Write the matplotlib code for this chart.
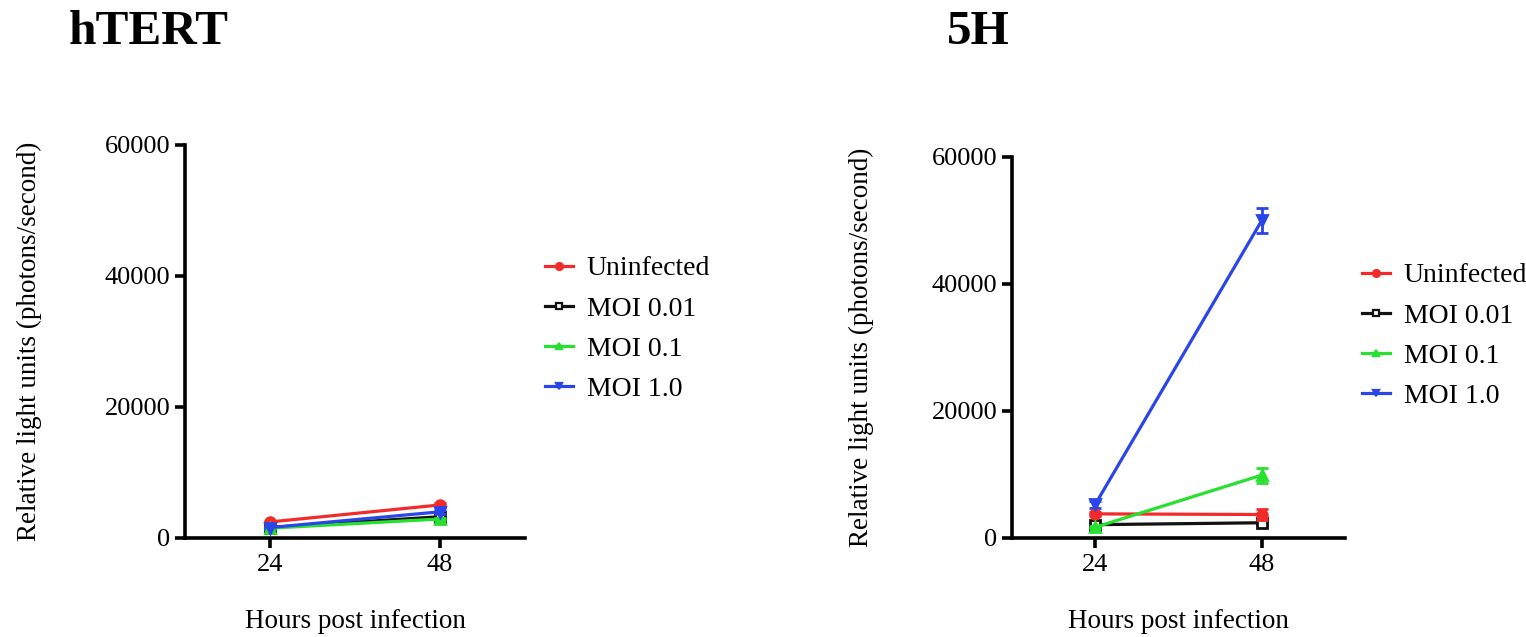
import matplotlib
matplotlib.use("Agg")
import matplotlib.pyplot as plt
from matplotlib.lines import Line2D

plt.rcParams['font.family'] = ['Liberation Serif', 'DejaVu Serif']

hours = [24, 48]
series = ["Uninfected", "MOI 0.01", "MOI 0.1", "MOI 1.0"]

# hTERT cells: mean luminescence and SEM
htert_mean = {
    "Uninfected": [2450, 5050],
    "MOI 0.01": [1600, 3250],
    "MOI 0.1": [1500, 2900],
    "MOI 1.0": [1600, 4000],
}
htert_err = {
    "Uninfected": [200, 300],
    "MOI 0.01": [150, 250],
    "MOI 0.1": [150, 200],
    "MOI 1.0": [150, 300],
}

# 5H cells: mean luminescence and SEM
h5_mean = {
    "Uninfected": [3800, 3700],
    "MOI 0.01": [2100, 2400],
    "MOI 0.1": [1700, 9900],
    "MOI 1.0": [5300, 50000],
}
h5_err = {
    "Uninfected": [300, 900],
    "MOI 0.01": [200, 300],
    "MOI 0.1": [200, 1200],
    "MOI 1.0": [600, 2000],
}

colors = {"Uninfected": "#f22a2a", "MOI 0.01": "#111111",
          "MOI 0.1": "#27e02f", "MOI 1.0": "#2a45e8"}
markers = {"Uninfected": "o", "MOI 0.01": "s", "MOI 0.1": "^", "MOI 1.0": "v"}
facecol = {"Uninfected": None, "MOI 0.01": "white", "MOI 0.1": None, "MOI 1.0": None}

W, H = 1526, 637
fig = plt.figure(figsize=(W / 100, H / 100), dpi=100)


def panel(rect, title, means, errs, title_x, legend_xy, ylab_x):
    ax = fig.add_axes(rect)
    handles = []
    for s in series:
        c = colors[s]
        fc = facecol[s] if facecol[s] else c
        ax.errorbar(hours, means[s], yerr=errs[s], color=c, lw=2.3,
                    marker=markers[s], markersize=7, markerfacecolor=fc,
                    markeredgecolor=c, markeredgewidth=2,
                    capsize=4, capthick=2, elinewidth=2,
                    zorder=3 if s != "MOI 0.01" else 2.5)
        handles.append(Line2D([], [], color=c, lw=2.3, marker=markers[s],
                              markersize=5, markerfacecolor=fc,
                              markeredgecolor=c, markeredgewidth=1.6))
    ax.set_xlim(12, 60)
    ax.set_ylim(0, 60000)
    ax.set_xticks(hours)
    ax.set_yticks([0, 20000, 40000, 60000])
    for sp in ["top", "right"]:
        ax.spines[sp].set_visible(False)
    for sp in ["left", "bottom"]:
        ax.spines[sp].set_linewidth(2.6)
    ax.tick_params(axis="both", direction="out", length=7.5, width=2.6,
                   labelsize=19, pad=4)
    ax.tick_params(axis="y", pad=3)
    ax.set_xlabel("Hours post infection", fontsize=19.5, labelpad=24)
    ax.set_ylabel("Relative light units (photons/second)", fontsize=19.5)
    ax.yaxis.set_label_coords(ylab_x, 0.5)
    fig.text(title_x, 1 - 44 / H, title, fontsize=35.5, fontweight="bold",
             ha="left", va="baseline")
    fig.legend(handles=handles, labels=series, loc="upper left",
               bbox_to_anchor=legend_xy, frameon=False, fontsize=20,
               handlelength=1.0, handletextpad=0.5, labelspacing=0.53,
               borderpad=0, borderaxespad=0)
    return ax


panel([185 / W, 1 - 538 / H, 340 / W, (538 - 145) / H], "hTERT",
      htert_mean, htert_err, 69 / W, (545 / W, 1 - 256 / H), -0.422)
panel([1012 / W, 1 - 538 / H, 333 / W, (538 - 157) / H], "5H",
      h5_mean, h5_err, 947 / W, (1362 / W, 1 - 263 / H), -0.415)

fig.savefig("out.png", dpi=100, facecolor="white")
